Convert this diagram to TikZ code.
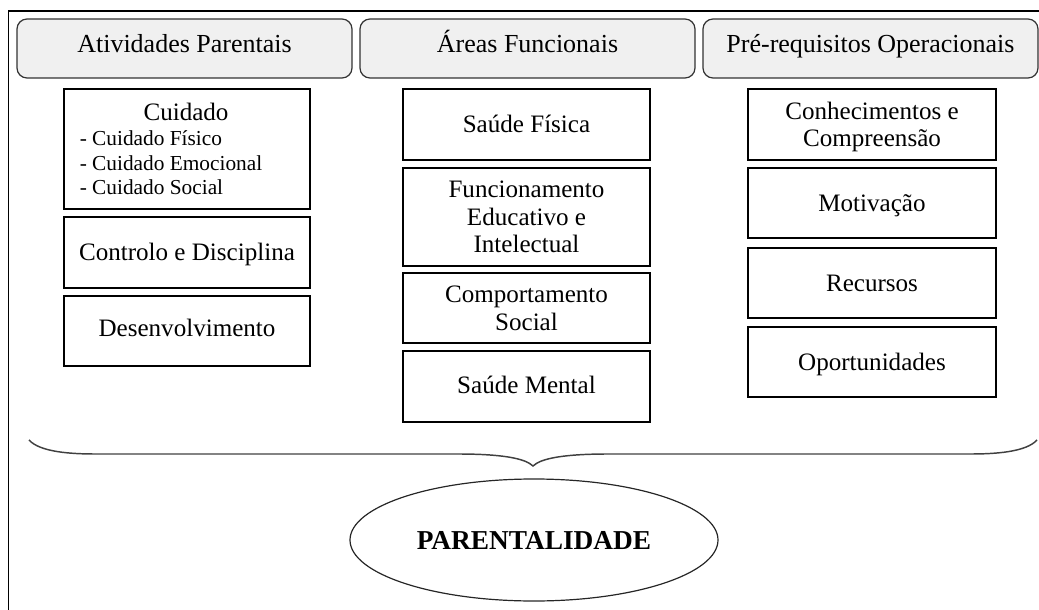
\documentclass[tikz,border=0pt]{standalone}
\usepackage{fontspec}
\setmainfont{Liberation Serif}
\usetikzlibrary{shapes.geometric}
\def\px{0.75pt}
\tikzset{
  hdr/.style={draw=black!80, line width=0.9pt, fill=black!6, rounded corners=7.5pt,
    minimum width={335*\px}, minimum height={59*\px}, inner sep=0pt,
    text height=12pt, text depth=6.3pt,
    font=\fontsize{19.5}{21}\selectfont},
  itembox/.style={draw=black, line width=0.9pt, inner sep=0pt, align=center,
    text height=14pt, text depth=1.4pt,
    font=\fontsize{18.8}{20.6}\selectfont},
  twoline/.style={text height=34.6pt, text depth=1.4pt},
  threeline/.style={text height=55.2pt, text depth=1.4pt},
  subitem/.style={anchor=base west, inner sep=0pt, font=\fontsize{16}{18}\selectfont},
  brace/.style={draw=black!75, line width=1.1pt},
}
\begin{document}
\begin{tikzpicture}[x=0.75pt, y=-0.75pt]
\useasboundingbox (0,0) rectangle (1039,610);
% frame
\coordinate (fbl) at (8.5,610);
\coordinate (ftl) at (8.5,11);
\coordinate (ftr) at (1039,11);
\draw[line width=0.9pt] (fbl) -- (ftl) -- (ftr);
% headers
\node[hdr] (h1) at (184.5,48.5) {Atividades Parentais};
\node[hdr] (h2) at (527.5,48.5) {Áreas Funcionais};
\node[hdr] (h3) at (870.5,48.5) {Pré-requisitos Operacionais};
% column 1
\node[itembox, minimum width={246*\px}, minimum height={120*\px}] (cuid) at (187,149) {};
\node[anchor=base, inner sep=0pt, font=\fontsize{18.8}{21}\selectfont] (cuidt) at (186,120) {Cuidado};
\node[subitem] (cf) at (79.5,146) {- Cuidado Físico};
\node[subitem] (ce) at (79.5,170) {- Cuidado Emocional};
\node[subitem] (cs) at (79.5,194) {- Cuidado Social};
\node[itembox, minimum width={246*\px}, minimum height={71*\px}] (ctrl) at (187,252.5) {Controlo e Disciplina};
\node[itembox, minimum width={246*\px}, minimum height={70*\px}, text depth=5.9pt] (desv) at (187,331) {Desenvolvimento};
% column 2
\node[itembox, minimum width={247*\px}, minimum height={71*\px}] (sf) at (526.5,124.5) {Saúde Física};
\node[itembox, threeline, minimum width={247*\px}, minimum height={98*\px}] (fe) at (526.5,217) {Funcionamento\\Educativo e\\Intelectual};
\node[itembox, twoline, minimum width={247*\px}, minimum height={70*\px}] (cs2) at (526.5,308) {Comportamento\\Social};
\node[itembox, minimum width={247*\px}, minimum height={71*\px}, text depth=3.6pt] (sm) at (526.5,386.5) {Saúde Mental};
% column 3
\node[itembox, twoline, minimum width={248*\px}, minimum height={71*\px}] (cc) at (872,124.5) {Conhecimentos e\\Compreensão};
\node[itembox, minimum width={248*\px}, minimum height={70*\px}] (mot) at (872,203) {Motivação};
\node[itembox, minimum width={248*\px}, minimum height={70*\px}] (rec) at (872,283) {Recursos};
\node[itembox, minimum width={248*\px}, minimum height={70*\px}] (opo) at (872,362) {Oportunidades};
% brace
\coordinate (bl) at (29,440);
\coordinate (br) at (1037,440);
\coordinate (bt) at (533,466);
\draw[brace] (bl) .. controls (40,452) and (70,454) .. (96,454) -- (458,454)
  .. controls (500,454) and (525,458) .. (bt)
  .. controls (541,458) and (566,454) .. (608,454) -- (970,454)
  .. controls (996,454) and (1026,452) .. (br);
% ellipse
\node[ellipse, draw=black!85, line width=0.9pt, minimum width={368*\px}, minimum height={122*\px},
  inner sep=0pt, text height=15pt, text depth=1.4pt,
  font=\fontsize{20.5}{24}\selectfont\bfseries] (par) at (534,540) {PARENTALIDADE};
\end{tikzpicture}
\end{document}
